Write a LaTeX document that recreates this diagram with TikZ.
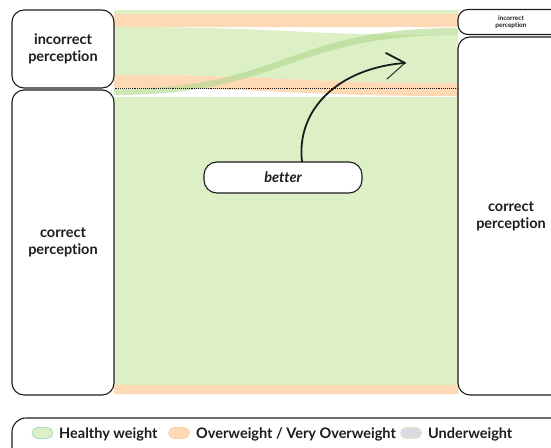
\documentclass[tikz,border=0pt]{standalone}
\usepackage{fontspec}
\setmainfont[Ligatures={NoCommon,NoRare}]{Lato}
\definecolor{hw}{RGB}{220,239,197}
\definecolor{ow}{RGB}{253,217,181}
\definecolor{hwdark}{RGB}{180,218,145}
\definecolor{ink}{RGB}{28,28,28}
\definecolor{uw}{RGB}{218,218,228}

% Sankey ribbon: colour, x1, top1, bottom1, x2, top2, bottom2
\newcommand\flowband[7]{%
  \fill[#1] (#2,#3) .. controls ({(#2+#5)/2},#3) and ({(#2+#5)/2},#6) .. (#5,#6)
    -- (#5,#7) .. controls ({(#2+#5)/2},#7) and ({(#2+#5)/2},#4) .. (#2,#4) -- cycle;}

\tikzset{
  perc/.style={draw=ink, line width=1.1pt, fill=white, rounded corners=12pt,
    align=center, text=ink, font=\bfseries\fontsize{14.5}{17}\selectfont, inner sep=0pt},
  swatch/.style={minimum width=21pt, minimum height=11pt, rounded corners=5.5pt,
    line width=0.8pt, inner sep=0pt},
  legtext/.style={anchor=base west, text=ink, font=\bfseries\fontsize{14.5}{17}\selectfont, inner sep=0pt},
  arrowline/.style={draw=ink, line width=1.8pt, line cap=round},
}

\begin{document}
\begin{tikzpicture}[x=1pt, y=-1pt]
\useasboundingbox (0,0) rectangle (551,447);

% flows between the two columns
\flowband{hw}{114}{10}{14}{458}{10}{14}
\flowband{ow}{114}{14}{27}{458}{14}{27}
\flowband{hw}{114}{27}{75}{458}{35}{83}
\flowband{ow}{114}{75}{88}{458}{83}{96}
\flowband{hw}{114}{97}{385}{458}{97}{385}
\flowband{ow}{114}{385}{394}{458}{385}{394}
\flowband{hwdark, opacity=0.65}{114}{89}{95}{458}{28}{35}

% columns
\node[perc, minimum width=102pt, minimum height=78pt] (linc) at (63,49) {incorrect\\perception};
\node[perc, minimum width=102pt, minimum height=305pt] (lcor) at (63,242.5) {correct\\perception};
\node[perc, minimum width=106pt, minimum height=25pt, rounded corners=10pt,
  font=\bfseries\fontsize{6.5}{7.5}\selectfont] (rinc) at (511,22) {incorrect\\perception};
\node[perc, minimum width=106pt, minimum height=358pt] (rcor) at (511,216) {correct\\perception};

\draw[ink, line width=0.9pt, densely dotted] (linc.south east) -- (linc.south east -| rcor.west);

% annotation
\node[perc, minimum width=158pt, minimum height=31pt, rounded corners=13pt,
  font=\bfseries\itshape\fontsize{14.5}{17}\selectfont] (better) at (283,177.5) {better};
\coordinate (tip) at (405,63);
\draw[arrowline] ([xshift=19pt]better.north) .. controls (296,110) and (338,68) .. (tip);
\draw[arrowline] (386,53) -- (tip);
\draw[ink, line width=0.9pt, line cap=round] (tip) -- (387,79);

% legend
\node[draw=ink, line width=1.1pt, rounded corners=14pt, minimum width=553pt,
  minimum height=44pt, inner sep=0pt] (legend) at (288.5,440) {};
\node[swatch, fill=hw, draw={rgb,255:red,165;green,222;blue,200}] (sw1) at (42.5,433) {};
\node[legtext] (lt1) at (59,438.5) {Healthy weight};
\node[swatch, fill=ow, draw={rgb,255:red,250;green,212;blue,172}] (sw2) at (179,433) {};
\node[legtext] (lt2) at (196,438.5) {Overweight / Very Overweight};
\node[swatch, fill=uw, draw={rgb,255:red,240;green,222;blue,198}] (sw3) at (411,433) {};
\node[legtext] (lt3) at (428,438.5) {Underweight};
\end{tikzpicture}
\end{document}
